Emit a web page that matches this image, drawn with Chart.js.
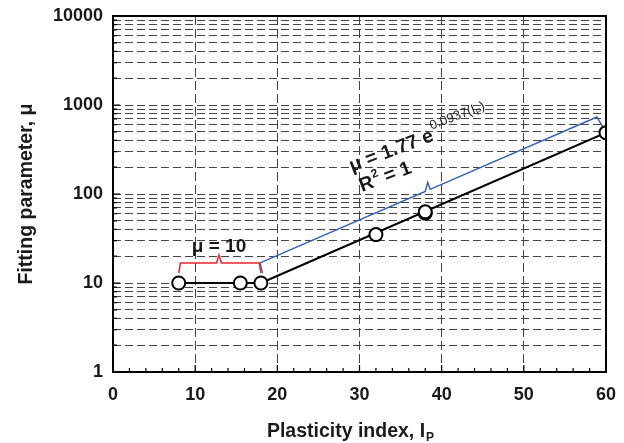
<!DOCTYPE html>
<html>
<head>
<meta charset="utf-8">
<script src="https://cdn.jsdelivr.net/npm/chart.js@4.4.0/dist/chart.umd.min.js"></script>
<style>
  html, body { margin: 0; padding: 0; background: #fff; }
  #wrap { width: 624px; height: 443px; }
</style>
</head>
<body>
<div id="wrap"><canvas id="plasticityChart" width="624" height="443"></canvas></div>
<script>
// ========== DATA ========== //
const plasticityIndex = [8, 15.5, 18, 32, 38, 38, 60];
const fittingParam    = [10, 10, 10, 35, 61, 63, 489];

const flatX = [8, 18];
const flatY = [10, 10];
const fitX  = [18, 60];
const fitY  = [10, 489];

// brace over the constant part (mu = 10)
const redBraceX = [8, 8.2, 12.6, 12.9, 13.2, 17.8, 18];
const redBraceY = [12.9, 16.8, 16.8, 20.6, 16.8, 16.8, 12.9];

// brace over the exponential part
const blueBraceX = [18.2, 17.9, 38.0, 38.3, 38.6, 58.9, 59.7];
const blueBraceY = [12.9, 16.8, 107, 135, 113, 733, 551];

const xTicks = [0, 10, 20, 30, 40, 50, 60];
const yDecades = [1, 10, 100, 1000, 10000];

const pts = (xs, ys) => xs.map((x, i) => ({ x: x, y: ys[i] }));

const FONT = '"Liberation Sans", Arial, sans-serif';

// ========== EXTRA DRAWING (frame, inward ticks, titles, labels) ========== //
const decorations = {
    id: 'decorations',
    afterDraw(chart) {
        const { ctx, chartArea: a, scales: { x, y } } = chart;
        ctx.save();

        // inward minor / major ticks
        ctx.strokeStyle = '#000';
        ctx.lineWidth = 1.2;
        ctx.beginPath();
        for (let v = 0; v <= 60; v += 2) {
            const px = x.getPixelForValue(v);
            const len = v % 10 === 0 ? 7 : 4;
            ctx.moveTo(px, a.bottom);
            ctx.lineTo(px, a.bottom - len);
        }
        yDecades.forEach(d => {
            for (let m = 1; m <= 9; m++) {
                const v = d * m;
                if (v > 10000) break;
                const py = y.getPixelForValue(v);
                const len = m === 1 ? 7 : 4;
                ctx.moveTo(a.left, py);
                ctx.lineTo(a.left + len, py);
            }
        });
        ctx.stroke();

        // frame
        ctx.lineWidth = 2;
        ctx.strokeRect(a.left, a.top, a.right - a.left, a.bottom - a.top);

        ctx.fillStyle = '#1a1a1a';

        // x title with subscript
        ctx.textBaseline = 'alphabetic';
        const main = 'Plasticity index, I';
        ctx.font = 'bold 12px ' + FONT;
        const subW = ctx.measureText('P').width;
        ctx.font = 'bold 19.5px ' + FONT;
        const mainW = ctx.measureText(main).width;
        let sx = 350 - (mainW + subW) / 2;
        ctx.textAlign = 'left';
        ctx.fillText(main, sx, 437);
        ctx.font = 'bold 12px ' + FONT;
        ctx.fillText('P', sx + mainW + 1, 441);

        // y title
        ctx.save();
        ctx.translate(32, (a.top + a.bottom) / 2);
        ctx.rotate(-Math.PI / 2);
        ctx.textAlign = 'center';
        ctx.font = 'bold 19.5px ' + FONT;
        ctx.fillText('Fitting parameter, \u03bc', 0, 0);
        ctx.restore();

        // mu = 10 label
        ctx.textAlign = 'center';
        ctx.font = 'bold 19px ' + FONT;
        ctx.fillText('\u03bc = 10', x.getPixelForValue(12.9), y.getPixelForValue(10) - 31);

        // fitted equation, rotated along the line
        const ang = -21 * Math.PI / 180;
        ctx.save();
        ctx.translate(x.getPixelForValue(29.1), y.getPixelForValue(177));
        ctx.rotate(ang);
        ctx.textAlign = 'left';
        ctx.font = 'bold 19.5px ' + FONT;
        const eq = '\u03bc = 1.77 e';
        ctx.fillText(eq, 0, 0);
        let w = ctx.measureText(eq).width;
        ctx.font = '13px ' + FONT;
        const sup = '0.0937(I';
        ctx.fillText(sup, w + 1, -11);
        let w2 = ctx.measureText(sup).width;
        ctx.font = '8.5px ' + FONT;
        ctx.fillText('P', w + 1 + w2, -8);
        const w3 = ctx.measureText('P').width;
        ctx.font = '13px ' + FONT;
        ctx.fillText(')', w + 1 + w2 + w3, -11);
        ctx.restore();

        ctx.save();
        ctx.translate(x.getPixelForValue(30.3), y.getPixelForValue(105));
        ctx.rotate(ang);
        ctx.textAlign = 'left';
        ctx.font = 'bold 19.5px ' + FONT;
        ctx.fillText('R', 0, 0);
        const rw = ctx.measureText('R').width;
        ctx.font = 'bold 12px ' + FONT;
        ctx.fillText('2', rw + 1, -9);
        ctx.font = 'bold 19.5px ' + FONT;
        ctx.fillText(' = 1', rw + 7, 0);
        ctx.restore();

        ctx.restore();
    }
};

// ========== CHART ========== //
const ctx = document.getElementById('plasticityChart');
new Chart(ctx, {
    type: 'scatter',
    data: {
        datasets: [
            {
                label: 'Data',
                data: pts(plasticityIndex, fittingParam),
                pointRadius: 6.5,
                pointBackgroundColor: '#fff',
                pointBorderColor: '#000',
                pointBorderWidth: 2,
                order: 0
            },
            {
                label: 'Constant',
                data: pts(flatX, flatY),
                showLine: true,
                borderColor: '#000',
                borderWidth: 2,
                pointRadius: 0,
                order: 1
            },
            {
                label: 'Fit',
                data: pts(fitX, fitY),
                showLine: true,
                borderColor: '#000',
                borderWidth: 2,
                pointRadius: 0,
                order: 1
            },
            {
                label: 'Red brace',
                data: pts(redBraceX, redBraceY),
                showLine: true,
                borderColor: '#e8242c',
                borderWidth: 1.5,
                pointRadius: 0,
                order: 2
            },
            {
                label: 'Blue brace',
                data: pts(blueBraceX, blueBraceY),
                showLine: true,
                borderColor: '#2f62b8',
                borderWidth: 1.4,
                pointRadius: 0,
                order: 2
            }
        ]
    },
    options: {
        responsive: false,
        animation: false,
        layout: { padding: { left: 0, right: 18, top: 16, bottom: 0 } },
        plugins: { legend: { display: false }, tooltip: { enabled: false } },
        scales: {
            x: {
                type: 'linear',
                min: 0,
                max: 60,
                afterFit: s => {
                    s.height = 71;
                    s.paddingLeft = 0;
                    s.paddingRight = 0;
                },
                afterBuildTicks: s => { s.ticks = xTicks.map(v => ({ value: v })); },
                grid: { color: '#444', lineWidth: 1, drawTicks: false },
                border: { display: false, dash: [9, 4] },
                ticks: {
                    color: '#1a1a1a',
                    padding: 12,
                    font: { family: FONT, size: 18, weight: 'bold' },
                    maxRotation: 0
                }
            },
            y: {
                type: 'logarithmic',
                min: 1,
                max: 10000,
                afterFit: s => {
                    s.width = 113;
                    s.paddingTop = 0;
                    s.paddingBottom = 0;
                },
                afterBuildTicks: s => {
                    const t = [];
                    yDecades.forEach(d => {
                        for (let m = 1; m <= 9; m++) {
                            if (d * m <= 10000) t.push({ value: d * m });
                        }
                    });
                    s.ticks = t;
                },
                grid: { color: '#444', lineWidth: 1, drawTicks: false },
                border: { display: false, dash: [8, 4] },
                ticks: {
                    color: '#1a1a1a',
                    padding: 10,
                    autoSkip: false,
                    font: { family: FONT, size: 18, weight: 'bold' },
                    callback: v => (yDecades.includes(v) ? String(v) : '')
                }
            }
        }
    },
    plugins: [decorations]
});
</script>
</body>
</html>
